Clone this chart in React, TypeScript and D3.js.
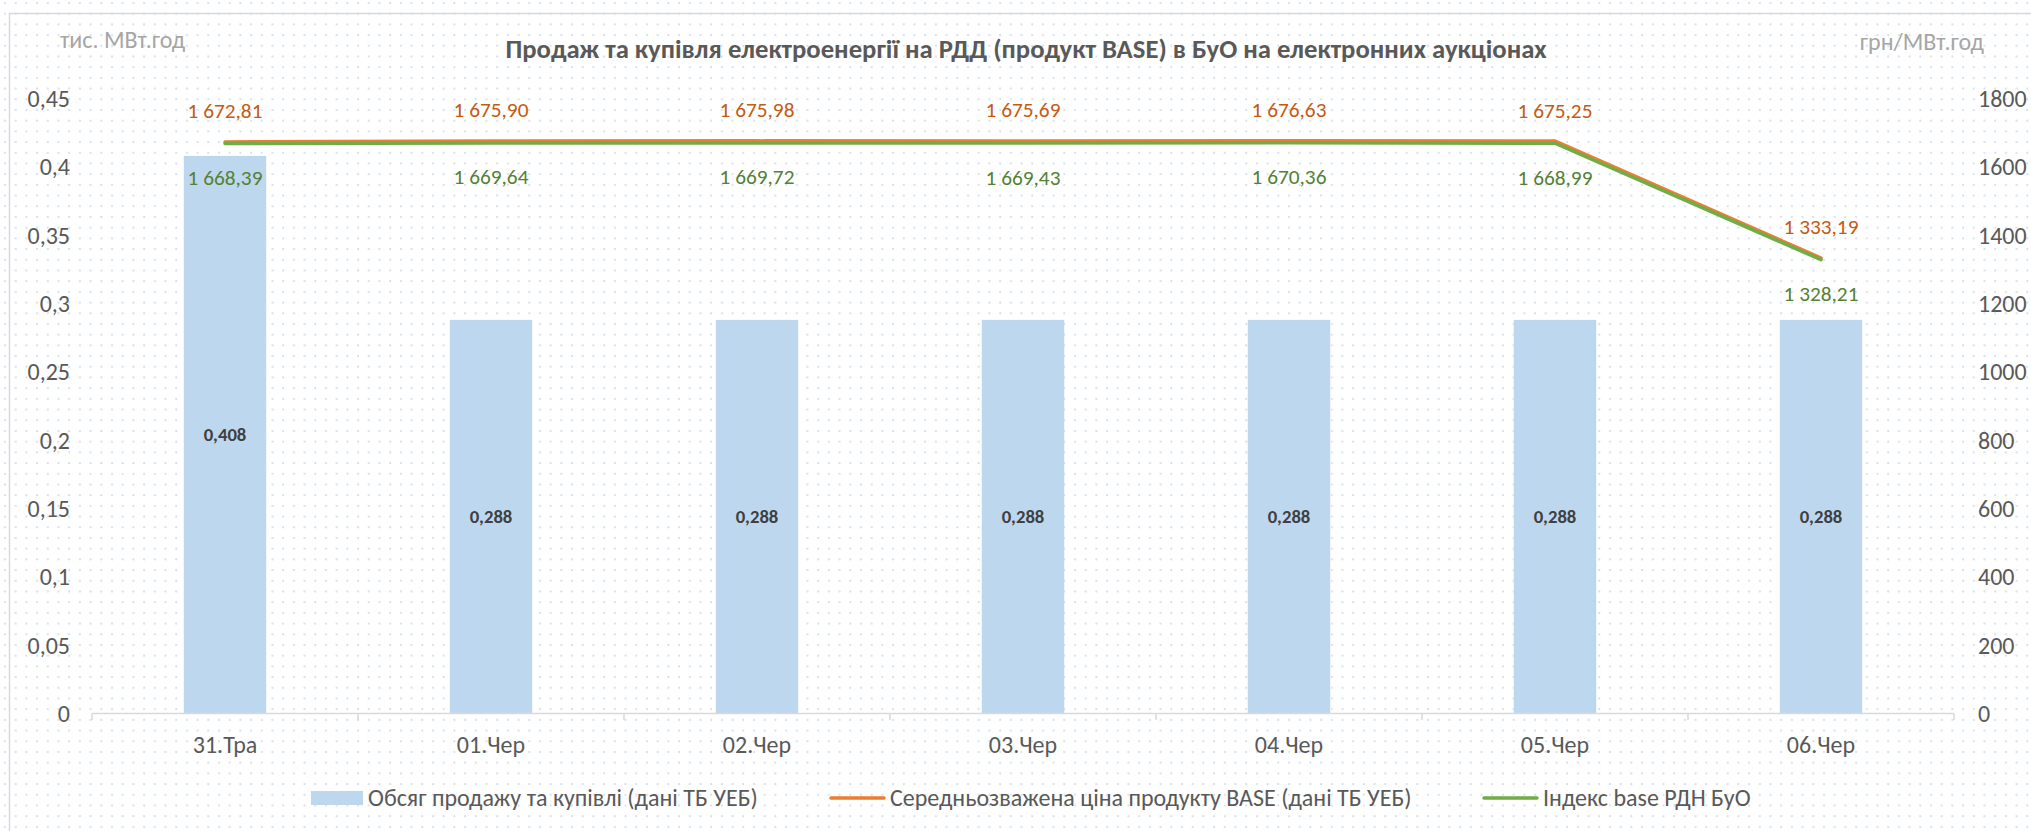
import * as d3 from "d3";

// ---- data ----
const categories = ["31.Тра", "01.Чер", "02.Чер", "03.Чер", "04.Чер", "05.Чер", "06.Чер"];
const volume = [0.408, 0.288, 0.288, 0.288, 0.288, 0.288, 0.288];
const avgPrice = [1672.81, 1675.9, 1675.98, 1675.69, 1676.63, 1675.25, 1333.19];
const indexBase = [1668.39, 1669.64, 1669.72, 1669.43, 1670.36, 1668.99, 1328.21];
const leftTicks = [0, 0.05, 0.1, 0.15, 0.2, 0.25, 0.3, 0.35, 0.4, 0.45];
const rightTicks = [0, 200, 400, 600, 800, 1000, 1200, 1400, 1600, 1800];

const title = "Продаж та купівля електроенергії на РДД (продукт BASE) в БуО на електронних аукціонах";
const leftUnit = "тис. МВт.год";
const rightUnit = "грн/МВт.год";
const legendNames = [
  "Обсяг продажу та купівлі (дані ТБ УЕБ)",
  "Середньозважена ціна продукту BASE (дані ТБ УЕБ)",
  "Індекс base РДН БуО",
];

const W = 2031;
const H = 831;
const FONT = "Carlito, Calibri, Roboto, sans-serif";
const grey = "#595959";
const barColor = "#BDD7EE";
const orange = "#ED7D31";
const green = "#70AD47";
const orangeText = "#C55A11";
const greenText = "#538135";

const ua = d3.formatLocale({ decimal: ",", thousands: " ", grouping: [3], currency: ["", ""] });
const fmtPrice = ua.format(",.2f");
const fmtVol = ua.format(".3f");
const fmtLeft = (v: number) => String(+v.toFixed(2)).replace(".", ",");

export default function App() {
  const x = d3.scaleBand<string>().domain(categories).range([92, 1954]).paddingInner(0.69).paddingOuter(0.345);
  const step = x.step();
  const cx = (c: string) => (x(c) as number) + x.bandwidth() / 2;
  const yL = d3.scaleLinear().domain([0, 0.45]).range([713.5, 98.5]);
  const yR = d3.scaleLinear().domain([0, 1800]).range([713.5, 98.5]);

  const line = d3
    .line<number>()
    .x((_, i) => cx(categories[i]))
    .y((d) => yR(d));

  const boundaries = d3.range(categories.length + 1).map((i) => 92 + i * step);

  return (
    <>
      <style>{`body{margin:0;overflow:hidden}`}</style>
      <svg width={W} height={H} style={{ display: "block", fontFamily: FONT }}>
        <defs>
          <pattern id="dots" width={10.7} height={10.7} patternUnits="userSpaceOnUse">
            <rect width={10.7} height={10.7} fill="#fff" />
            <circle cx={5} cy={3} r={1.1} fill="#D0DDEF" />
          </pattern>
        </defs>
        <rect width={W} height={H} fill="url(#dots)" />
        <rect x={9.5} y={13.5} width={W + 40} height={H + 40} fill="none" stroke="#D9D9D9" strokeWidth={1.5} />

        {/* title and units */}
        <text x={1026} y={49} textAnchor="middle" dy="0.35em" fontSize={26.7} fontWeight="bold" fill={grey}>
          {title}
        </text>
        <text x={60} y={40} dy="0.35em" fontSize={24} fill="#A6A6A6">
          {leftUnit}
        </text>
        <text x={1984} y={42} dy="0.35em" textAnchor="end" fontSize={24} fill="#A6A6A6">
          {rightUnit}
        </text>

        {/* left axis labels */}
        {leftTicks.map((t) => (
          <text key={"l" + t} x={70} y={yL(t)} dy="0.35em" textAnchor="end" fontSize={24} fill={grey}>
            {fmtLeft(t)}
          </text>
        ))}
        {/* right axis labels */}
        {rightTicks.map((t) => (
          <text key={"r" + t} x={1978} y={yR(t)} dy="0.35em" fontSize={24} fill={grey}>
            {t}
          </text>
        ))}

        {/* bars */}
        {categories.map((c, i) => (
          <rect
            key={"b" + c}
            x={x(c)}
            y={yL(volume[i])}
            width={x.bandwidth()}
            height={yL(0) - yL(volume[i])}
            fill={barColor}
          />
        ))}
        {categories.map((c, i) => (
          <text
            key={"bl" + c}
            x={cx(c)}
            y={(yL(volume[i]) + yL(0)) / 2}
            dy="0.35em"
            textAnchor="middle"
            fontSize={18.7}
            fontWeight="bold"
            fill="#404040"
          >
            {fmtVol(volume[i])}
          </text>
        ))}

        {/* x axis */}
        <line x1={92} x2={1954} y1={713.5} y2={713.5} stroke="#D9D9D9" strokeWidth={1.5} />
        {boundaries.map((b) => (
          <line key={"t" + b} x1={b} x2={b} y1={713.5} y2={720} stroke="#D9D9D9" strokeWidth={1.5} />
        ))}
        {categories.map((c) => (
          <text key={"x" + c} x={cx(c)} y={745} dy="0.35em" textAnchor="middle" fontSize={24} fill={grey}>
            {c}
          </text>
        ))}

        {/* lines */}
        <path d={line(avgPrice) ?? ""} fill="none" stroke={orange} strokeWidth={3.5} strokeLinecap="round" />
        <path d={line(indexBase) ?? ""} fill="none" stroke={green} strokeWidth={3.5} strokeLinecap="round" />

        {categories.map((c, i) => (
          <text key={"o" + c} x={cx(c)} y={yR(avgPrice[i]) - 31} dy="0.35em" textAnchor="middle" fontSize={21.3} fill={orangeText}>
            {fmtPrice(avgPrice[i])}
          </text>
        ))}
        {categories.map((c, i) => (
          <text key={"g" + c} x={cx(c)} y={yR(indexBase[i]) + 34} dy="0.35em" textAnchor="middle" fontSize={21.3} fill={greenText}>
            {fmtPrice(indexBase[i])}
          </text>
        ))}

        {/* legend */}
        <rect x={311} y={791} width={52} height={14} fill={barColor} />
        <text x={368} y={798} dy="0.35em" fontSize={24} fill={grey}>
          {legendNames[0]}
        </text>
        <line x1={831} x2={884} y1={798} y2={798} stroke={orange} strokeWidth={3.5} strokeLinecap="round" />
        <text x={890} y={798} dy="0.35em" fontSize={24} fill={grey}>
          {legendNames[1]}
        </text>
        <line x1={1484} x2={1537} y1={798} y2={798} stroke={green} strokeWidth={3.5} strokeLinecap="round" />
        <text x={1543} y={798} dy="0.35em" fontSize={24} fill={grey}>
          {legendNames[2]}
        </text>
      </svg>
    </>
  );
}
